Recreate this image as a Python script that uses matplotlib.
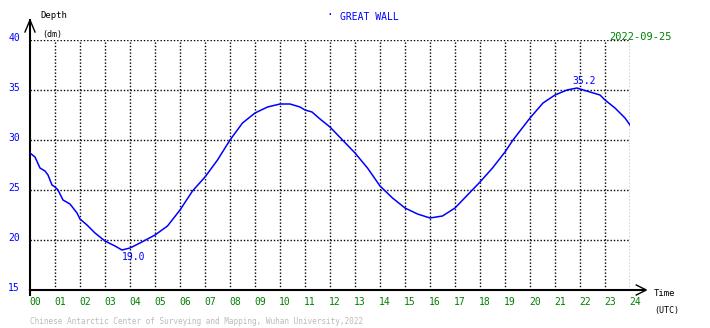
#!/usr/bin/env python3
"""Tide depth chart for Great Wall station."""

import matplotlib
matplotlib.use("Agg")
import matplotlib.pyplot as plt

# Data (hour in UTC, depth in dm)
hours = [0, 0.2, 0.4, 0.6, 0.72, 0.88, 1.0, 1.12, 1.32, 1.6, 1.88, 2.0, 2.28,
         2.6, 3.0, 3.4, 3.68, 4.0, 4.4, 5.0, 5.5, 6.0, 6.5, 7.0, 7.5, 8.0, 8.5,
         9.0, 9.5, 10.0, 10.4, 10.8, 11.0, 11.28, 11.6, 12.0, 12.5, 13.0, 13.5,
         14.0, 14.5, 15.0, 15.5, 16.0, 16.5, 17.0, 17.5, 18.0, 18.5, 19.0,
         19.32, 20.0, 20.52, 21.0, 21.48, 21.88, 22.0, 22.4, 22.8, 23.0, 23.4,
         23.8, 24.0]
depth = [28.7, 28.3, 27.2, 26.9, 26.5, 25.5, 25.3, 25.0, 24.0, 23.6, 22.7, 22.1,
         21.5, 20.7, 19.9, 19.4, 19.0, 19.2, 19.7, 20.5, 21.4, 23.0, 24.9, 26.3,
         28.0, 30.0, 31.7, 32.7, 33.3, 33.6, 33.6, 33.3, 33.0, 32.8, 32.1, 31.3,
         30.0, 28.7, 27.2, 25.4, 24.2, 23.2, 22.6, 22.2, 22.4, 23.2, 24.5, 25.8,
         27.2, 28.8, 30.0, 32.2, 33.7, 34.5, 35.0, 35.2, 35.1, 34.8, 34.5, 34.0,
         33.2, 32.2, 31.5]
x_ticks = list(range(0, 25))
x_labels = [f"{h:02d}" for h in x_ticks]
y_ticks = [15, 20, 25, 30, 35, 40]
min_label = (4.16, 19.0)
max_label = (22.16, 35.2)

W, H = 710, 328
fig = plt.figure(figsize=(W / 100, H / 100), dpi=100)
ax = fig.add_axes([30 / W, (H - 290) / H, 600 / W, 250 / H])
ax.set_xlim(0, 24)
ax.set_ylim(15, 40)
ax.axis("off")

mono = "DejaVu Sans Mono"
dots = (0, (1.0, 1.4))

# dotted grid
for h in x_ticks[1:]:
    ax.plot([h, h], [15, 40], color="black", lw=1.0, ls=dots)
for v in y_ticks[1:]:
    ax.plot([0, 24], [v, v], color="black", lw=1.0, ls=dots)

# axes with arrows
ax.plot([0, 0], [14.5, 42], color="black", lw=1.5, clip_on=False)
ax.plot([0, 24.6], [15, 15], color="black", lw=1.5, clip_on=False)
ax.plot([-0.2, 0, 0.2], [40.8, 42, 40.8], color="black", lw=1, clip_on=False)
ax.plot([24.25, 24.65, 24.25], [15.5, 15, 14.5], color="black", lw=1, clip_on=False)

# tide curve
ax.plot(hours, depth, color="blue", lw=1.1)

ax.text(min_label[0], min_label[1] - 0.2, f"{min_label[1]:.1f}", color="blue",
        fontsize=7, family=mono, ha="center", va="top")
ax.text(max_label[0], max_label[1] + 0.25, f"{max_label[1]:.1f}", color="blue",
        fontsize=7, family=mono, ha="center", va="bottom")

for h, lab in zip(x_ticks, x_labels):
    ax.text(h + 0.2, 13.8, lab, color="green", fontsize=7, family=mono,
            ha="center", va="center", clip_on=False)
for v in y_ticks:
    ax.text(-0.4, v + 0.2, str(v), color="blue", fontsize=7, family=mono,
            ha="right", va="center", clip_on=False)

fig.text(40 / W, 1 - 15 / H, "Depth", fontsize=6.5, family=mono, va="center")
fig.text(42 / W, 1 - 34 / H, "(dm)", fontsize=6, family=mono, va="center")
fig.text(654 / W, 1 - 294 / H, "Time", fontsize=6.5, family=mono, va="center")
fig.text(654 / W, 1 - 310 / H, "(UTC)", fontsize=6, family=mono, va="center")
fig.text(330 / W, 1 - 15 / H, "·", color="blue", fontsize=8, family=mono,
         ha="center", va="center")
fig.text(340 / W, 1 - 17 / H, "GREAT WALL", color="blue", fontsize=7,
         family=mono, va="center")
fig.text(672 / W, 1 - 37 / H, "2022-09-25", color="green", fontsize=7.5,
         family=mono, ha="right", va="center")
fig.text(30 / W, 1 - 321 / H,
         "Chinese Antarctic Center of Surveying and Mapping, Wuhan University,2022",
         color="#bbbbbb", fontsize=5.6, family=mono, va="center")

fig.savefig("out.png", dpi=100)
plt.close(fig)
